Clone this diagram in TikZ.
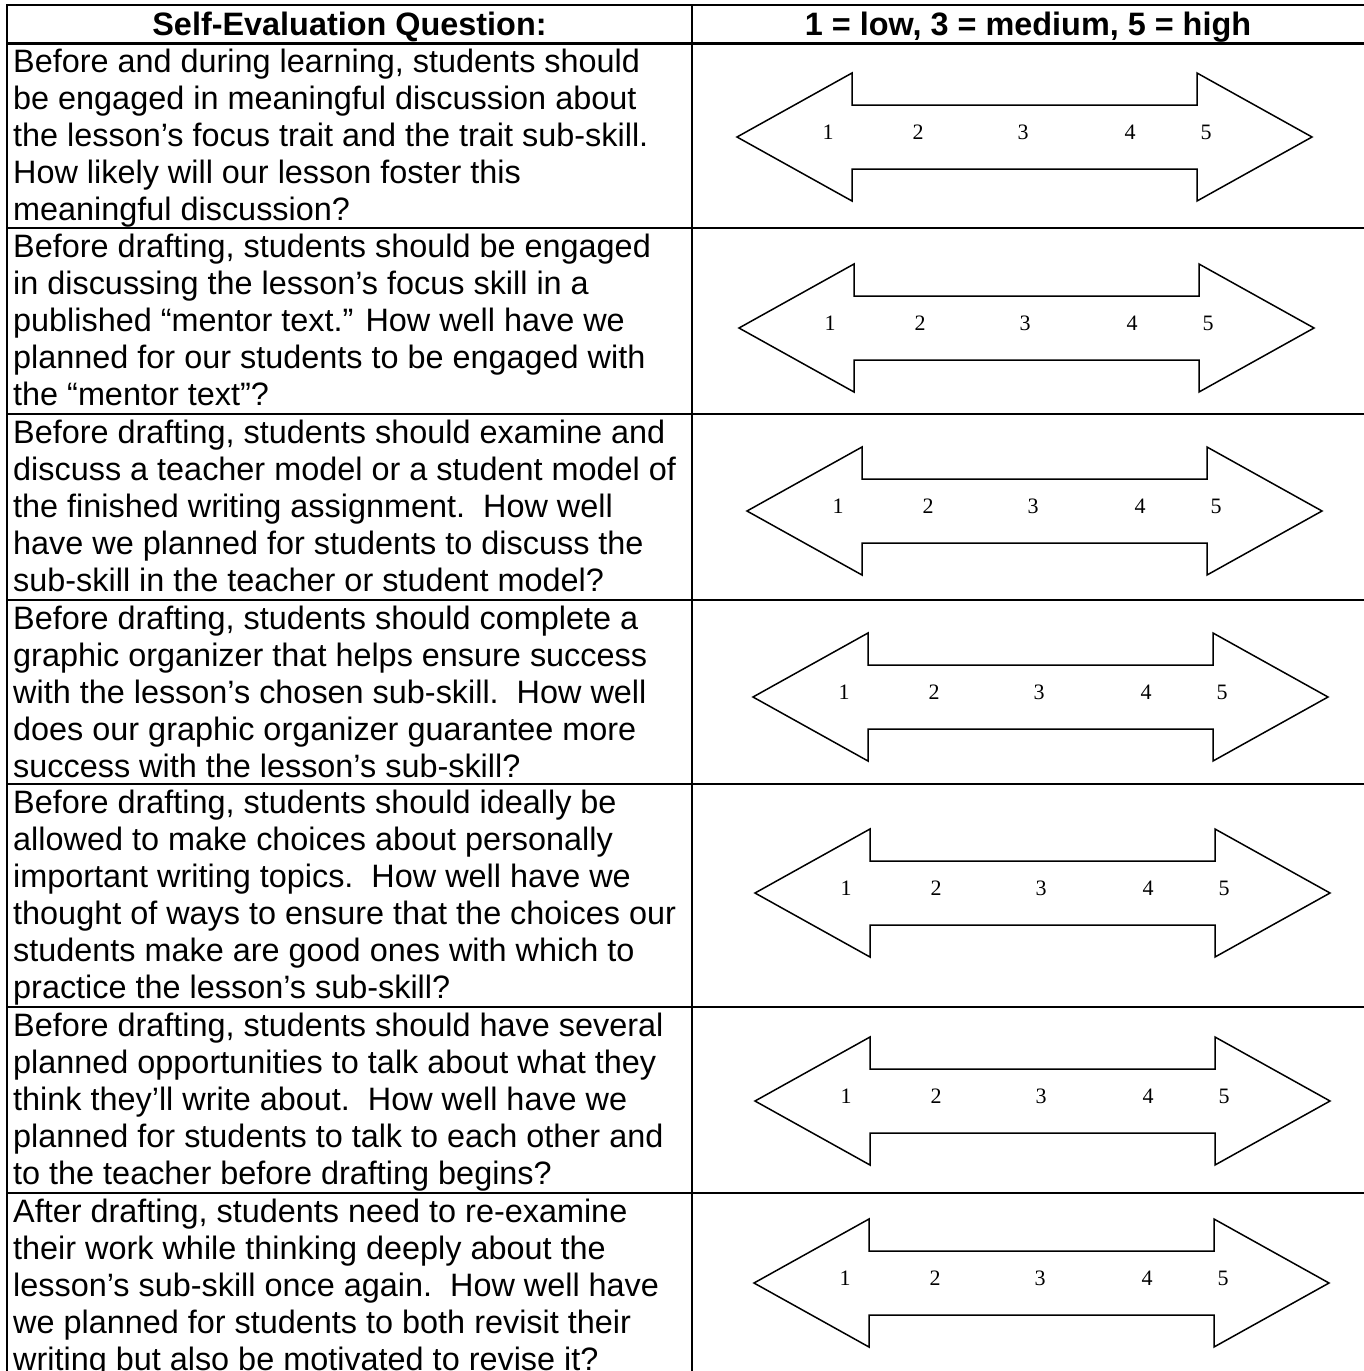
\documentclass[tikz,border=0pt]{standalone}
\usepackage{fontspec}
\setmainfont{Liberation Sans}
\newfontfamily\numfont{Liberation Serif}
\tikzset{
	rule/.style={line width=2.2pt, line cap=rect},
	heading/.style={anchor=base, inner sep=0pt, font=\fontsize{32.4}{37}\selectfont\bfseries},
	% anchor sits on the baseline of the last line
	question/.style={anchor=base west, inner sep=0pt, align=left, font=\fontsize{32.4}{37}\selectfont},
	scalenum/.style={anchor=base, inner sep=0pt, font=\numfont\fontsize{22}{24}\selectfont},
	pics/scalearrow/.style={code={
		\draw[line width=1.5pt, line join=miter] (0,0) -- (115,-64) -- (115,-32) -- (460,-32) -- (460,-64) -- (575,0)
			-- (460,64) -- (460,32) -- (115,32) -- (115,64) -- cycle;
		\foreach \n/\x in {1/91,2/181,3/286,4/393,5/469}
			\node[scalenum] (-\n) at (\x,2) {\n};
	}}
}
\begin{document}
\begin{tikzpicture}[x=1pt, y=-1pt]
	\useasboundingbox (0,0) rectangle (1364,1371);
	% table rules
	\foreach \y in {5,43.5,228,414,600,784,1007,1193}
		\draw[rule] (7,\y) -- (1364,\y);
	\draw[rule] (7,5) -- (7,1375);
	\draw[rule] (692,5) -- (692,1375);
	% header
	\node[heading] (qhead) at (349.5,35) {Self-Evaluation Question:};
	\node[heading] (shead) at (1028,35) {1 = low, 3 = medium, 5 = high};
	% questions
	\node[question] (q1) at (13,220.5) {Before and during learning, students should\\
		be engaged in meaningful discussion about\\
		the lesson’s focus trait and the trait sub-skill.\\
		How likely will our lesson foster this\\
		meaningful discussion?};
	\node[question] (q2) at (13,405) {Before drafting, students should be engaged\\
		in discussing the lesson’s focus skill in a\\
		published “mentor text.” How well have we\\
		planned for our students to be engaged with\\
		the “mentor text”?};
	\node[question] (q3) at (13,591) {Before drafting, students should examine and\\
		discuss a teacher model or a student model of\\
		the finished writing assignment.\ \ How well\\
		have we planned for students to discuss the\\
		sub-skill in the teacher or student model?};
	\node[question] (q4) at (13,777) {Before drafting, students should complete a\\
		graphic organizer that helps ensure success\\
		with the lesson’s chosen sub-skill.\ \ How well\\
		does our graphic organizer guarantee more\\
		success with the lesson’s sub-skill?};
	\node[question] (q5) at (13,998) {Before drafting, students should ideally be\\
		allowed to make choices about personally\\
		important writing topics.\ \ How well have we\\
		thought of ways to ensure that the choices our\\
		students make are good ones with which to\\
		practice the lesson’s sub-skill?};
	\node[question] (q6) at (13,1184) {Before drafting, students should have several\\
		planned opportunities to talk about what they\\
		think they’ll write about.\ \ How well have we\\
		planned for students to talk to each other and\\
		to the teacher before drafting begins?};
	\node[question] (q7) at (13,1370) {After drafting, students need to re-examine\\
		their work while thinking deeply about the\\
		lesson’s sub-skill once again.\ \ How well have\\
		we planned for students to both revisit their\\
		writing but also be motivated to revise it?};
	% rating arrows
	\pic (a1) at (737,137) {scalearrow};
	\pic (a2) at (739,328) {scalearrow};
	\pic (a3) at (747,511) {scalearrow};
	\pic (a4) at (753,697) {scalearrow};
	\pic (a5) at (755,893) {scalearrow};
	\pic (a6) at (755,1101) {scalearrow};
	\pic (a7) at (754,1283) {scalearrow};
\end{tikzpicture}
\end{document}
